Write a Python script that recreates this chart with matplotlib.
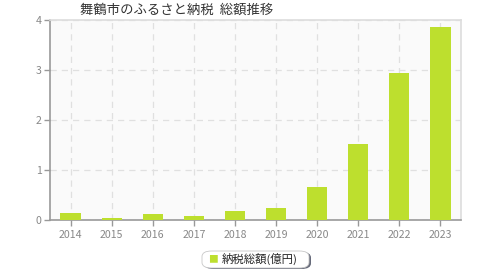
import matplotlib
matplotlib.use("Agg")
import matplotlib.pyplot as plt
from matplotlib.patches import FancyBboxPatch

plt.rcParams['font.family'] = ['Noto Sans CJK JP', 'DejaVu Sans']

years = ["2014", "2015", "2016", "2017", "2018", "2019", "2020", "2021", "2022", "2023"]
values = [0.14, 0.05, 0.13, 0.09, 0.18, 0.25, 0.66, 1.52, 2.95, 3.87]
title = "舞鶴市のふるさと納税  総額推移"
series_name = "納税総額(億円)"
bar_color = "#bddf2e"

fig = plt.figure(figsize=(4.8, 2.8), dpi=100)
ax = fig.add_axes([50 / 480, 60 / 280, 411 / 480, 200 / 280])
ax.set_facecolor("#fafafa")

x = range(len(years))
ax.bar(x, values, width=0.49, color=bar_color, zorder=3)

ax.set_xlim(-0.5, len(years) - 0.5)
ax.set_ylim(0, 4)
ax.set_yticks([0, 1, 2, 3, 4])
ax.set_xticks(list(x))
ax.set_xticklabels(years)

ax.grid(True, color="#e0e0e0", linestyle=(0, (5, 4)), linewidth=0.9, zorder=0)
ax.tick_params(axis="both", colors="#999999", labelcolor="#888888", labelsize=7.6,
               length=4, width=1, direction="out")
ax.tick_params(axis="y", pad=2)
ax.tick_params(axis="x", pad=3)

for s in ("left", "bottom"):
    ax.spines[s].set_color("#999999")
    ax.spines[s].set_linewidth(1.2)
for s in ("top", "right"):
    ax.spines[s].set_color("#dddddd")
    ax.spines[s].set_linewidth(1.2)

fig.text(80 / 480, 1 - 10 / 280, title, fontsize=9.6, color="#333333",
         ha="left", va="center")

# legend box with shadow
shadow = FancyBboxPatch((204 / 480, 1 - 269 / 280), 107 / 480, 17 / 280,
                        boxstyle="round,pad=0,rounding_size=0.02",
                        transform=fig.transFigure, facecolor="#666a7a",
                        edgecolor="none", zorder=1)
box = FancyBboxPatch((202 / 480, 1 - 268 / 280), 107 / 480, 17 / 280,
                     boxstyle="round,pad=0,rounding_size=0.02",
                     transform=fig.transFigure, facecolor="white",
                     edgecolor="#c8c8c8", linewidth=0.6, zorder=2)
fig.patches.extend([shadow, box])
fig.text(213 / 480, 1 - 259 / 280, "■", fontsize=7, color=bar_color,
         ha="center", va="center", zorder=3)
fig.text(222 / 480, 1 - 259 / 280, series_name, fontsize=8.2, color="#222222",
         ha="left", va="center", zorder=3)

fig.savefig("out.png", dpi=100)
